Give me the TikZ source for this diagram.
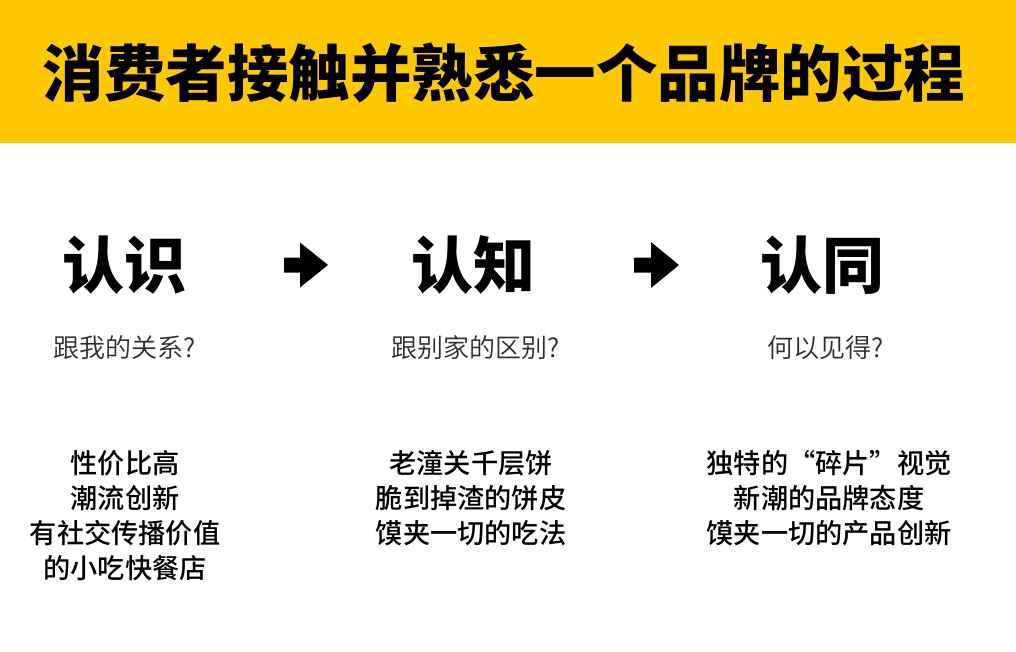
\documentclass[tikz,border=0pt]{standalone}
\usepackage{fontspec}
\newfontfamily\cjk{Noto Sans CJK SC}[BoldFont=* Bold]
\newfontfamily\cjkblack{Noto Sans CJK SC Black}
\newfontfamily\cjkdemi{Noto Sans CJK SC DemiLight}
\newfontfamily\cjkmed{Noto Sans CJK SC Medium}
\definecolor{bandyellow}{RGB}{255,200,0}
\definecolor{subgray}{RGB}{45,45,45}
\begin{document}
\begin{tikzpicture}[x=1pt,y=-1pt,
  titletext/.style={font=\cjkblack\fontsize{61.5}{61.5}\selectfont, text=black, inner sep=0pt, anchor=center},
  headtext/.style={font=\cjkblack\fontsize{62}{62}\selectfont, text=black, inner sep=0pt, anchor=center},
  subtext/.style={font=\cjkdemi\fontsize{26}{26}\selectfont, text=subgray, inner sep=0pt, anchor=center},
  bodytext/.style={font=\cjkmed\fontsize{27.2}{35}\selectfont, text=black, inner sep=0pt, align=center, anchor=center},
  blockarrow/.style={fill=black, draw=none}
]
\useasboundingbox (0,0) rectangle (1016,652);
\fill[white] (0,0) rectangle (1016,652);
\fill[bandyellow] (0,0) rectangle (1016,143);
\node[titletext] (title) at (504,73) {消费者接触并熟悉一个品牌的过程};

\node[headtext] (h1) at (124,265) {认识};
\node[headtext] (h2) at (473,265) {认知};
\node[headtext] (h3) at (822,265) {认同};

\node[subtext] (s1) at (125,348) {跟我的关系?};
\node[subtext] (s2) at (476,348) {跟别家的区别?};
\node[subtext] (s3) at (826,348) {何以见得?};

\node[bodytext] (b1) at (125,516) {性价比高\\潮流创新\\有社交传播价值\\的小吃快餐店};
\node[bodytext] (b2) at (471,498) {老潼关千层饼\\脆到掉渣的饼皮\\馍夹一切的吃法};
\node[bodytext] (b3) at (829,498) {独特的“碎片”视觉\\新潮的品牌态度\\馍夹一切的产品创新};

\coordinate (a1) at (284,265);
\coordinate (a2) at (634,265);
\fill[blockarrow] (a1) ++(0,-7.5) -- ++(16,0) -- ++(0,-15) -- ++(28,22.5) -- ++(-28,22.5) -- ++(0,-15) -- ++(-16,0) -- cycle;
\fill[blockarrow] (a2) ++(0,-7.5) -- ++(17,0) -- ++(0,-15.5) -- ++(28,23) -- ++(-28,23) -- ++(0,-15.5) -- ++(-17,0) -- cycle;
\end{tikzpicture}
\end{document}
